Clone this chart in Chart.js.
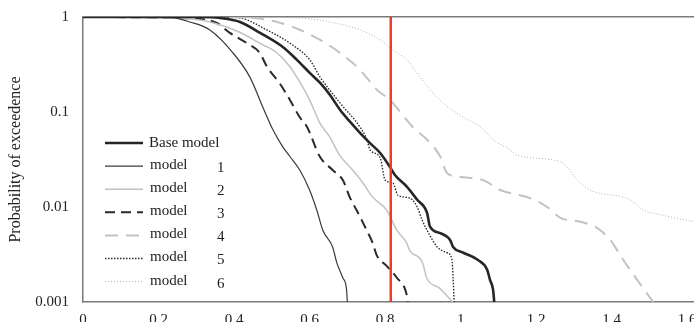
<!DOCTYPE html>
<html>
<head>
<meta charset="utf-8">
<script src="https://cdn.jsdelivr.net/npm/chart.js@4.4.0/dist/chart.umd.min.js"></script>
<style>
  html, body { margin: 0; padding: 0; background: #fff; }
  #wrap { width: 694px; height: 322px; }
</style>
</head>
<body>
<div id="wrap"><canvas id="graphe" width="694" height="322"></canvas></div>
<script>
// valeurs
const xTicks = [0, 0.2, 0.4, 0.6, 0.8, 1, 1.2, 1.4, 1.6];
const yTicks = [0.001, 0.01, 0.1, 1];
const seriesNames = ['Base model', 'model 1', 'model 2', 'model 3', 'model 4', 'model 5', 'model 6'];
const redX = 0.815;

const baseX = [0, 0.31, 0.363, 0.416, 0.469, 0.53, 0.567, 0.601, 0.628, 0.654, 0.681, 0.707, 0.734, 0.76, 0.787, 0.813, 0.826, 0.858, 0.885, 0.911, 0.919, 0.946, 0.972, 0.98, 1.007, 1.044, 1.07, 1.078, 1.086, 1.089];
const baseY = [1, 1, 0.975, 0.886, 0.68, 0.48, 0.352, 0.257, 0.202, 0.151, 0.105, 0.079, 0.06, 0.047, 0.037, 0.0263, 0.0217, 0.0163, 0.0119, 0.0087, 0.0062, 0.0053, 0.0045, 0.0038, 0.0033, 0.0028, 0.0022, 0.0017, 0.00134, 0.001];

const m1X = [0, 0.23, 0.283, 0.336, 0.397, 0.442, 0.476, 0.503, 0.529, 0.548, 0.574, 0.6, 0.619, 0.635, 0.661, 0.672, 0.688, 0.698, 0.7];
const m1Y = [1, 0.99, 0.886, 0.73, 0.42, 0.233, 0.113, 0.065, 0.043, 0.034, 0.0245, 0.0151, 0.0093, 0.0057, 0.0038, 0.0026, 0.0018, 0.00134, 0.001];

const m2X = [0, 0.257, 0.336, 0.415, 0.468, 0.513, 0.548, 0.574, 0.6, 0.627, 0.653, 0.68, 0.714, 0.741, 0.767, 0.804, 0.831, 0.857, 0.865, 0.899, 0.91, 0.944, 0.979];
const m2Y = [1, 0.97, 0.886, 0.69, 0.53, 0.42, 0.3, 0.207, 0.134, 0.077, 0.055, 0.035, 0.0245, 0.018, 0.0127, 0.0093, 0.0057, 0.0042, 0.0035, 0.0026, 0.0018, 0.0014, 0.001];

const m3X = [0, 0.283, 0.354, 0.389, 0.434, 0.468, 0.487, 0.521, 0.548, 0.574, 0.593, 0.627, 0.661, 0.688, 0.706, 0.733, 0.751, 0.767, 0.778, 0.804, 0.831, 0.857, 0.86];
const m3Y = [1, 0.97, 0.865, 0.68, 0.53, 0.42, 0.3, 0.2, 0.134, 0.088, 0.07, 0.034, 0.0245, 0.0192, 0.0128, 0.008, 0.0057, 0.0042, 0.0031, 0.0024, 0.0018, 0.0012, 0.001];

const m4X = [0, 0.257, 0.424, 0.514, 0.575, 0.628, 0.681, 0.734, 0.779, 0.813, 0.84, 0.874, 0.911, 0.946, 0.964, 0.999, 1.06, 1.105, 1.184, 1.229, 1.264, 1.317, 1.362, 1.396, 1.43, 1.468, 1.51];
const m4Y = [1, 1, 0.99, 0.886, 0.73, 0.573, 0.418, 0.277, 0.17, 0.134, 0.1, 0.069, 0.051, 0.034, 0.0228, 0.0207, 0.0192, 0.0151, 0.0124, 0.01, 0.0077, 0.007, 0.006, 0.0045, 0.0028, 0.0017, 0.001];

const m5X = [0, 0.363, 0.416, 0.487, 0.548, 0.601, 0.628, 0.681, 0.734, 0.752, 0.76, 0.787, 0.8, 0.821, 0.834, 0.866, 0.885, 0.898, 0.911, 0.938, 0.964, 0.977, 0.98, 0.983];
const m5Y = [1, 1, 0.976, 0.73, 0.53, 0.352, 0.233, 0.124, 0.069, 0.051, 0.04, 0.033, 0.0192, 0.0178, 0.0133, 0.0124, 0.01, 0.0073, 0.0057, 0.0038, 0.0033, 0.0028, 0.0018, 0.001];

const m6X = [0, 0.442, 0.575, 0.654, 0.734, 0.787, 0.821, 0.858, 0.893, 0.927, 0.954, 1.007, 1.052, 1.086, 1.131, 1.15, 1.264, 1.282, 1.309, 1.343, 1.449, 1.483, 1.528, 1.618];
const m6Y = [1, 1, 0.976, 0.886, 0.73, 0.573, 0.45, 0.352, 0.233, 0.158, 0.124, 0.088, 0.07, 0.051, 0.04, 0.035, 0.03, 0.0263, 0.0192, 0.0151, 0.0119, 0.0093, 0.0083, 0.007];

function pts(xs, ys) {
    return xs.map((x, i) => ({ x: x, y: ys[i] }));
}

const serif = "'Liberation Serif', 'DejaVu Serif', serif";

function serie(label, xs, ys, color, width, dash) {
    return {
        label: label,
        data: pts(xs, ys),
        borderColor: color,
        borderWidth: width,
        borderDash: dash,
        pointRadius: 0,
        fill: false,
        cubicInterpolationMode: 'monotone'
    };
}

const datasets = [
    serie(seriesNames[0], baseX, baseY, '#262626', 2.6, []),
    serie(seriesNames[1], m1X, m1Y, '#3a3a3a', 1.2, []),
    serie(seriesNames[2], m2X, m2Y, '#c2c2c2', 1.5, []),
    serie(seriesNames[3], m3X, m3Y, '#2a2a2a', 2, [10, 6]),
    serie(seriesNames[4], m4X, m4Y, '#c2c2c2', 2, [13, 8]),
    serie(seriesNames[5], m5X, m5Y, '#2a2a2a', 1.4, [1.5, 1.5]),
    serie(seriesNames[6], m6X, m6Y, '#b0b0b0', 1, [1, 2]),
    {
        label: 'limit',
        data: [{ x: redX, y: 0.001 }, { x: redX, y: 1 }],
        borderColor: '#ee3b2b',
        borderWidth: 2.5,
        pointRadius: 0,
        order: -1
    }
];

// légende dessinée dans la zone du graphique
const legendPlugin = {
    id: 'legendeInterne',
    afterDraw(chart) {
        const ctx = chart.ctx;
        const area = chart.chartArea;
        const x0 = area.left + 22;
        const y0 = area.top + 126;
        ctx.save();
        ctx.font = '15px ' + serif;
        ctx.fillStyle = '#222';
        ctx.textBaseline = 'middle';
        for (let i = 0; i < seriesNames.length; i++) {
            const ds = chart.data.datasets[i];
            const y = y0 + i * 23.1;
            ctx.beginPath();
            ctx.strokeStyle = ds.borderColor;
            ctx.lineWidth = ds.borderWidth;
            ctx.setLineDash(ds.borderDash);
            ctx.moveTo(x0, y);
            ctx.lineTo(x0 + 38, y);
            ctx.stroke();
            ctx.setLineDash([]);
            const parts = seriesNames[i].split(' ');
            if (i === 0) {
                ctx.fillText(seriesNames[i], x0 + 44, y);
            } else {
                ctx.fillText(parts[0], x0 + 45, y - 1);
                ctx.fillText(parts[1], x0 + 112, y + 2);
            }
        }
        ctx.restore();
    }
};

new Chart(document.getElementById('graphe').getContext('2d'), {
    type: 'line',
    data: { datasets: datasets },
    options: {
        responsive: false,
        animation: false,
        layout: { padding: { top: 17, right: 0, left: 0, bottom: 0 } },
        plugins: {
            legend: { display: false },
            tooltip: { enabled: false }
        },
        scales: {
            x: {
                type: 'linear',
                min: 0,
                max: 1.618,
                afterBuildTicks(scale) {
                    scale.ticks = xTicks.map(v => ({ value: v }));
                },
                afterFit(scale) {
                    scale.height = 20;
                    scale.paddingLeft = 0;
                    scale.paddingRight = 0;
                },
                grid: { display: false, drawTicks: false },
                border: { color: '#7a7a7a', width: 1.5 },
                ticks: {
                    padding: 9,
                    maxRotation: 0,
                    autoSkip: false,
                    color: '#222',
                    font: { family: serif, size: 15 },
                    callback: v => String(v)
                }
            },
            y: {
                type: 'logarithmic',
                min: 0.001,
                max: 1,
                afterBuildTicks(scale) {
                    scale.ticks = yTicks.map(v => ({ value: v }));
                },
                afterFit(scale) {
                    scale.width = 83;
                    scale.paddingTop = 0;
                    scale.paddingBottom = 0;
                },
                grid: {
                    drawTicks: false,
                    lineWidth: 1.5,
                    color: c => (c.tick && c.tick.value === 1) ? '#7a7a7a' : 'rgba(0,0,0,0)'
                },
                border: { color: '#7a7a7a', width: 1.5 },
                title: {
                    display: true,
                    text: 'Probability of exceedence',
                    color: '#222',
                    font: { family: serif, size: 16 },
                    padding: { top: 6, bottom: 0 }
                },
                ticks: {
                    padding: 14,
                    color: '#222',
                    font: { family: serif, size: 15 },
                    callback: v => String(v)
                }
            }
        }
    },
    plugins: [legendPlugin]
});
</script>
</body>
</html>
